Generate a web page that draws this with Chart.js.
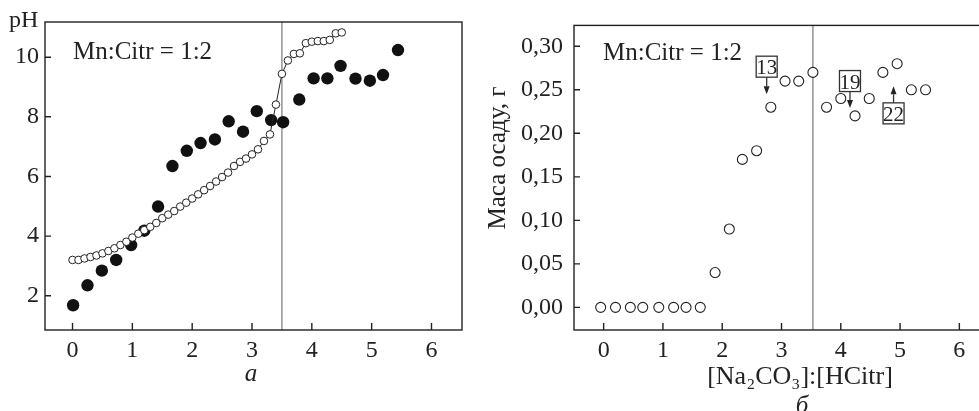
<!DOCTYPE html>
<html>
<head>
<meta charset="utf-8">
<script src="https://cdn.jsdelivr.net/npm/chart.js@4.4.1/dist/chart.umd.min.js"></script>
<style>
  html, body { margin: 0; padding: 0; background: #fff; overflow: hidden; width: 979px; height: 411px; }
  #phChart { position: absolute; left: 0; top: 0; }
  #massChart { position: absolute; left: 480px; top: 0; }
</style>
</head>
<body>
<canvas id="phChart" width="470" height="411"></canvas>
<canvas id="massChart" width="520" height="411"></canvas>
<script>
// --- a: pH vs [Na2CO3]:[HCitr]
const phRatio = [0, 0.1, 0.2, 0.3, 0.4, 0.5, 0.6, 0.7, 0.8, 0.9, 1.0, 1.1, 1.2, 1.3, 1.4, 1.5, 1.6, 1.7, 1.8, 1.9,
  2.0, 2.1, 2.2, 2.3, 2.4, 2.5, 2.6, 2.7, 2.8, 2.9, 3.0, 3.1, 3.2, 3.3, 3.4, 3.5, 3.6, 3.7, 3.8, 3.9,
  4.0, 4.1, 4.2, 4.3, 4.4, 4.5];
const phCalc = [3.2, 3.2, 3.25, 3.3, 3.35, 3.42, 3.5, 3.59, 3.7, 3.81, 3.95, 4.08, 4.2, 4.31, 4.44, 4.6, 4.72, 4.84, 4.99, 5.12,
  5.26, 5.4, 5.54, 5.68, 5.83, 5.98, 6.13, 6.35, 6.49, 6.6, 6.74, 6.91, 7.19, 7.41, 8.41, 9.44, 9.89, 10.11, 10.13, 10.47,
  10.52, 10.54, 10.54, 10.58, 10.8, 10.83];
const phExpRatio = [0.01, 0.25, 0.49, 0.73, 0.98, 1.2, 1.43, 1.67, 1.91, 2.14, 2.38, 2.61, 2.85, 3.08, 3.32, 3.52,
  3.79, 4.03, 4.26, 4.48, 4.73, 4.97, 5.19, 5.44];
const phExp = [1.68, 2.35, 2.84, 3.2, 3.7, 4.18, 4.99, 6.35, 6.86, 7.12, 7.24, 7.85, 7.5, 8.19, 7.89, 7.82,
  8.58, 9.29, 9.29, 9.71, 9.28, 9.21, 9.4, 10.24];
const ratioTicks = [0, 1, 2, 3, 4, 5, 6];
const phTicks = [2, 4, 6, 8, 10];
const phEquivalence = 3.5;

// --- б: precipitate mass vs [Na2CO3]:[HCitr]
const massRatio = [-0.05, 0.2, 0.45, 0.66, 0.93, 1.18, 1.39, 1.63, 1.88, 2.12, 2.34, 2.58, 2.82, 3.06, 3.29, 3.53,
  3.76, 4.0, 4.24, 4.48, 4.71, 4.95, 5.19, 5.43];
const massValues = [0, 0, 0, 0, 0, 0, 0, 0, 0.04, 0.09, 0.17, 0.18, 0.23, 0.26, 0.26, 0.27,
  0.23, 0.24, 0.22, 0.24, 0.27, 0.28, 0.25, 0.25];
const massTicks = [0, 0.05, 0.10, 0.15, 0.20, 0.25, 0.30];
const massEquivalence = 3.53;
const sampleLabels = ['13', '19', '22'];
const sampleX = [2.75, 4.155, 4.89];
const sampleTip = [0.245, 0.229, 0.254];
const sampleBoxEdge = [0.2645, 0.248, 0.235];

const INK = '#222';
const SERIF = "'Liberation Serif', 'Times New Roman', serif";
const tickFont = { family: SERIF, size: 24 };

function pts(xs, ys) {
  return xs.map((x, i) => ({ x, y: ys[i] }));
}

function fixTicks(values) {
  return scale => { scale.ticks = values.map(v => ({ value: v })); };
}

function drawFrame(chart, eqValue) {
  const { ctx, chartArea: a, scales: { x, y } } = chart;
  ctx.save();
  // equivalence line
  const ex = x.getPixelForValue(eqValue);
  ctx.strokeStyle = '#777';
  ctx.lineWidth = 1.2;
  ctx.beginPath();
  ctx.moveTo(ex, a.top);
  ctx.lineTo(ex, a.bottom);
  ctx.stroke();
  // box + inward ticks
  ctx.strokeStyle = INK;
  ctx.lineWidth = 1.4;
  ctx.strokeRect(a.left, a.top, a.right - a.left, a.bottom - a.top);
  ctx.beginPath();
  x.ticks.forEach(t => {
    const px = x.getPixelForValue(t.value);
    ctx.moveTo(px, a.bottom);
    ctx.lineTo(px, a.bottom - 7);
  });
  y.ticks.forEach(t => {
    const py = y.getPixelForValue(t.value);
    ctx.moveTo(a.left, py);
    ctx.lineTo(a.left + 6, py);
  });
  ctx.stroke();
  ctx.restore();
}

function text(ctx, str, x, y, font, align = 'left') {
  ctx.font = font;
  ctx.fillStyle = INK;
  ctx.textAlign = align;
  ctx.textBaseline = 'alphabetic';
  ctx.fillText(str, x, y);
}

const phPlugin = {
  id: 'phDecor',
  beforeDatasetsDraw(chart) { drawFrame(chart, phEquivalence); },
  afterDraw(chart) {
    const ctx = chart.ctx;
    ctx.save();
    text(ctx, 'pH', 9, 27, `24px ${SERIF}`);
    text(ctx, 'Mn:Citr = 1:2', 73, 59, `25px ${SERIF}`);
    text(ctx, 'a', 251, 381, `italic 25px ${SERIF}`, 'center');
    ctx.restore();
  }
};

const massPlugin = {
  id: 'massDecor',
  beforeDatasetsDraw(chart) { drawFrame(chart, massEquivalence); },
  afterDraw(chart) {
    const { ctx, scales: { x, y } } = chart;
    ctx.save();
    text(ctx, 'Mn:Citr = 1:2', 123, 60, `25px ${SERIF}`);
    text(ctx, '[Na\u2082CO\u2083]:[HCitr]', 320, 384, `26px ${SERIF}`, 'center');
    text(ctx, '\u0431', 322, 413, `italic 25px ${SERIF}`, 'center');
    ctx.translate(17, 158);
    ctx.rotate(-Math.PI / 2);
    text(ctx, 'Маса осаду, г', 0, 8, `25px ${SERIF}`, 'center');
    ctx.restore();

    // numbered samples with arrows
    ctx.save();
    sampleLabels.forEach((label, i) => {
      const px = x.getPixelForValue(sampleX[i]);
      const tip = y.getPixelForValue(sampleTip[i]);
      const edge = y.getPixelForValue(sampleBoxEdge[i]);
      const down = edge < tip;
      const size = 21;
      const boxTop = down ? edge - size : edge;
      ctx.strokeStyle = '#333';
      ctx.lineWidth = 1.3;
      ctx.fillStyle = '#fff';
      ctx.fillRect(px - size / 2, boxTop, size, size);
      ctx.strokeRect(px - size / 2, boxTop, size, size);
      ctx.font = `21px ${SERIF}`;
      ctx.fillStyle = INK;
      ctx.textAlign = 'center';
      ctx.textBaseline = 'alphabetic';
      ctx.fillText(label, px, boxTop + 18);
      const head = down ? tip - 8 : tip + 8;
      ctx.beginPath();
      ctx.moveTo(px, edge);
      ctx.lineTo(px, head);
      ctx.stroke();
      ctx.beginPath();
      ctx.moveTo(px, tip);
      ctx.lineTo(px - 3, head);
      ctx.lineTo(px + 3, head);
      ctx.closePath();
      ctx.fill();
    });
    ctx.restore();
  }
};

function axes(xMin, xMax, yMin, yMax, xVals, yVals, yWidth, yPad, yFormat) {
  return {
    x: {
      type: 'linear', min: xMin, max: xMax,
      grid: { display: false, drawTicks: false },
      border: { display: false },
      afterBuildTicks: fixTicks(xVals),
      afterFit: s => { s.height = 81; },
      ticks: { font: tickFont, color: INK, padding: 6, maxRotation: 0 }
    },
    y: {
      type: 'linear', min: yMin, max: yMax,
      grid: { display: false, drawTicks: false },
      border: { display: false },
      afterBuildTicks: fixTicks(yVals),
      afterFit: s => { s.width = yWidth; },
      ticks: { font: tickFont, color: INK, padding: yPad, callback: yFormat }
    }
  };
}

new Chart(document.getElementById('phChart'), {
  type: 'scatter',
  data: {
    datasets: [
      {
        label: 'calc',
        data: pts(phRatio, phCalc),
        showLine: true,
        borderColor: INK,
        borderWidth: 1,
        pointRadius: 3.8,
        pointBackgroundColor: '#fff',
        pointBorderColor: INK,
        pointBorderWidth: 1
      },
      {
        label: 'exp',
        data: pts(phExpRatio, phExp),
        pointRadius: 6.2,
        pointBackgroundColor: '#111',
        pointBorderColor: '#111',
        pointBorderWidth: 0
      }
    ]
  },
  options: {
    responsive: false,
    animation: false,
    devicePixelRatio: 1,
    layout: { padding: { top: 22, right: 8, left: 0, bottom: 0 } },
    plugins: { legend: { display: false }, tooltip: { enabled: false } },
    scales: axes(-0.46, 6.51, 0.85, 11.18, ratioTicks, phTicks, 45, 6, v => String(v))
  },
  plugins: [phPlugin]
});

new Chart(document.getElementById('massChart'), {
  type: 'scatter',
  data: {
    datasets: [{
      label: 'mass',
      data: pts(massRatio, massValues),
      pointRadius: 5,
      pointBackgroundColor: '#fff',
      pointBorderColor: INK,
      pointBorderWidth: 1.1
    }]
  },
  options: {
    responsive: false,
    animation: false,
    devicePixelRatio: 1,
    layout: { padding: { top: 24, right: 11, left: 0, bottom: 0 } },
    plugins: { legend: { display: false }, tooltip: { enabled: false } },
    scales: axes(-0.5, 6.5, -0.026, 0.324, ratioTicks, massTicks, 94, 11, v => v.toFixed(2).replace('.', ','))
  },
  plugins: [massPlugin]
});
</script>
</body>
</html>
